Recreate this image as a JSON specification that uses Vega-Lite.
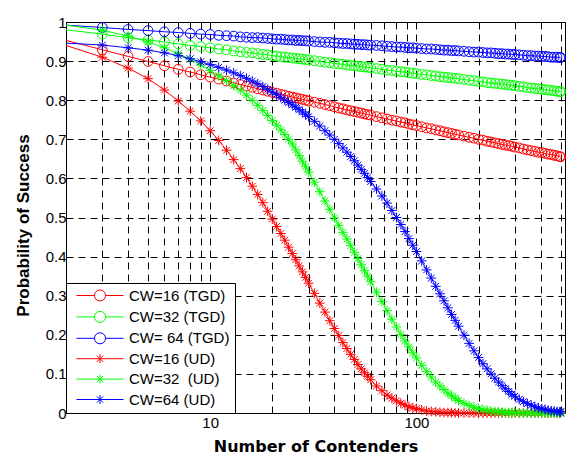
{
  "$schema": "https://vega.github.io/schema/vega-lite/v6.json",
  "width": 499,
  "height": 391,
  "autosize": {"type": "none"},
  "padding": {"left": 66, "top": 22, "right": 1, "bottom": 44},
  "background": "white",
  "config": {
    "font": "Liberation Sans",
    "view": {"stroke": "black", "strokeWidth": 1},
    "axis": {
      "gridColor": "black", "gridDash": [7, 5], "gridOpacity": 1, "gridWidth": 1,
      "domainColor": "black", "tickColor": "black", "labelColor": "black", "titleColor": "black",
      "labelFont": "Liberation Sans", "titleFont": "DejaVu Sans",
      "labelFontSize": 15, "titleFontSize": 16, "titleFontWeight": "bold"
    }
  },
  "datasets": {
    "d": [
      {"n":2,"a":0.953,"b":0.98,"c":0.992,"d":0.94,"e":0.992,"f":0.946},
      {"n":3,"a":0.929,"b":0.969,"c":0.986,"d":0.91,"e":0.979,"f":0.941},
      {"n":4,"a":0.912,"b":0.96,"c":0.981,"d":0.882,"e":0.964,"f":0.934},
      {"n":5,"a":0.899,"b":0.954,"c":0.978,"d":0.855,"e":0.949,"f":0.928},
      {"n":6,"a":0.888,"b":0.949,"c":0.975,"d":0.826,"e":0.934,"f":0.921},
      {"n":7,"a":0.879,"b":0.944,"c":0.973,"d":0.798,"e":0.919,"f":0.914},
      {"n":8,"a":0.872,"b":0.94,"c":0.971,"d":0.772,"e":0.905,"f":0.906},
      {"n":9,"a":0.865,"b":0.937,"c":0.969,"d":0.747,"e":0.89,"f":0.898},
      {"n":10,"a":0.859,"b":0.934,"c":0.968,"d":0.722,"e":0.876,"f":0.891},
      {"n":11,"a":0.854,"b":0.931,"c":0.966,"d":0.697,"e":0.862,"f":0.884},
      {"n":12,"a":0.849,"b":0.929,"c":0.965,"d":0.672,"e":0.85,"f":0.877},
      {"n":13,"a":0.844,"b":0.926,"c":0.964,"d":0.648,"e":0.837,"f":0.87},
      {"n":14,"a":0.84,"b":0.924,"c":0.962,"d":0.625,"e":0.826,"f":0.863},
      {"n":15,"a":0.836,"b":0.922,"c":0.961,"d":0.602,"e":0.813,"f":0.856},
      {"n":16,"a":0.833,"b":0.921,"c":0.96,"d":0.58,"e":0.8,"f":0.849},
      {"n":17,"a":0.829,"b":0.919,"c":0.96,"d":0.559,"e":0.787,"f":0.842},
      {"n":18,"a":0.826,"b":0.917,"c":0.959,"d":0.538,"e":0.774,"f":0.835},
      {"n":19,"a":0.823,"b":0.916,"c":0.958,"d":0.516,"e":0.761,"f":0.828},
      {"n":20,"a":0.82,"b":0.914,"c":0.957,"d":0.496,"e":0.748,"f":0.821},
      {"n":21,"a":0.818,"b":0.913,"c":0.956,"d":0.477,"e":0.736,"f":0.814},
      {"n":22,"a":0.815,"b":0.911,"c":0.956,"d":0.459,"e":0.724,"f":0.807},
      {"n":23,"a":0.813,"b":0.91,"c":0.955,"d":0.442,"e":0.712,"f":0.8},
      {"n":24,"a":0.81,"b":0.909,"c":0.954,"d":0.424,"e":0.7,"f":0.794},
      {"n":25,"a":0.808,"b":0.908,"c":0.954,"d":0.408,"e":0.688,"f":0.788},
      {"n":26,"a":0.806,"b":0.907,"c":0.953,"d":0.392,"e":0.673,"f":0.782},
      {"n":27,"a":0.804,"b":0.906,"c":0.953,"d":0.376,"e":0.658,"f":0.776},
      {"n":28,"a":0.802,"b":0.905,"c":0.952,"d":0.361,"e":0.644,"f":0.77},
      {"n":29,"a":0.8,"b":0.904,"c":0.952,"d":0.347,"e":0.63,"f":0.764},
      {"n":30,"a":0.798,"b":0.903,"c":0.951,"d":0.332,"e":0.616,"f":0.758},
      {"n":32,"a":0.795,"b":0.901,"c":0.95,"d":0.306,"e":0.59,"f":0.746},
      {"n":34,"a":0.792,"b":0.899,"c":0.949,"d":0.281,"e":0.566,"f":0.734},
      {"n":36,"a":0.789,"b":0.897,"c":0.948,"d":0.258,"e":0.542,"f":0.722},
      {"n":38,"a":0.786,"b":0.896,"c":0.948,"d":0.236,"e":0.521,"f":0.711},
      {"n":40,"a":0.783,"b":0.894,"c":0.947,"d":0.216,"e":0.499,"f":0.7},
      {"n":42,"a":0.78,"b":0.893,"c":0.946,"d":0.198,"e":0.48,"f":0.689},
      {"n":44,"a":0.778,"b":0.892,"c":0.945,"d":0.18,"e":0.462,"f":0.678},
      {"n":46,"a":0.775,"b":0.89,"c":0.945,"d":0.165,"e":0.445,"f":0.667},
      {"n":48,"a":0.773,"b":0.889,"c":0.944,"d":0.15,"e":0.428,"f":0.656},
      {"n":50,"a":0.771,"b":0.888,"c":0.943,"d":0.137,"e":0.411,"f":0.645},
      {"n":52,"a":0.769,"b":0.887,"c":0.943,"d":0.124,"e":0.395,"f":0.634},
      {"n":54,"a":0.767,"b":0.886,"c":0.942,"d":0.113,"e":0.379,"f":0.623},
      {"n":56,"a":0.765,"b":0.885,"c":0.942,"d":0.103,"e":0.364,"f":0.613},
      {"n":58,"a":0.763,"b":0.884,"c":0.941,"d":0.094,"e":0.35,"f":0.602},
      {"n":60,"a":0.762,"b":0.883,"c":0.941,"d":0.085,"e":0.336,"f":0.592},
      {"n":64,"a":0.758,"b":0.881,"c":0.94,"d":0.069,"e":0.309,"f":0.573},
      {"n":68,"a":0.755,"b":0.879,"c":0.939,"d":0.057,"e":0.285,"f":0.555},
      {"n":72,"a":0.752,"b":0.877,"c":0.938,"d":0.046,"e":0.262,"f":0.537},
      {"n":76,"a":0.749,"b":0.876,"c":0.937,"d":0.038,"e":0.24,"f":0.518},
      {"n":80,"a":0.747,"b":0.874,"c":0.936,"d":0.031,"e":0.22,"f":0.5},
      {"n":84,"a":0.744,"b":0.873,"c":0.936,"d":0.025,"e":0.201,"f":0.482},
      {"n":88,"a":0.742,"b":0.872,"c":0.935,"d":0.02,"e":0.184,"f":0.464},
      {"n":92,"a":0.739,"b":0.87,"c":0.934,"d":0.016,"e":0.169,"f":0.446},
      {"n":96,"a":0.737,"b":0.869,"c":0.934,"d":0.013,"e":0.154,"f":0.429},
      {"n":100,"a":0.735,"b":0.868,"c":0.933,"d":0.011,"e":0.141,"f":0.413},
      {"n":106,"a":0.732,"b":0.866,"c":0.932,"d":0.008,"e":0.122,"f":0.389},
      {"n":112,"a":0.729,"b":0.865,"c":0.931,"d":0.005,"e":0.106,"f":0.366},
      {"n":118,"a":0.727,"b":0.863,"c":0.931,"d":0.004,"e":0.092,"f":0.345},
      {"n":124,"a":0.724,"b":0.862,"c":0.93,"d":0.003,"e":0.079,"f":0.324},
      {"n":130,"a":0.722,"b":0.86,"c":0.929,"d":0.002,"e":0.069,"f":0.305},
      {"n":136,"a":0.719,"b":0.859,"c":0.928,"d":0.001,"e":0.06,"f":0.287},
      {"n":142,"a":0.717,"b":0.858,"c":0.928,"d":0.001,"e":0.051,"f":0.269},
      {"n":148,"a":0.715,"b":0.857,"c":0.927,"d":0.001,"e":0.044,"f":0.252},
      {"n":154,"a":0.713,"b":0.856,"c":0.927,"d":0,"e":0.038,"f":0.237},
      {"n":160,"a":0.711,"b":0.855,"c":0.926,"d":0,"e":0.032,"f":0.222},
      {"n":170,"a":0.708,"b":0.853,"c":0.925,"d":0,"e":0.025,"f":0.199},
      {"n":180,"a":0.705,"b":0.851,"c":0.924,"d":0,"e":0.019,"f":0.178},
      {"n":190,"a":0.703,"b":0.85,"c":0.923,"d":0,"e":0.015,"f":0.159},
      {"n":200,"a":0.7,"b":0.848,"c":0.923,"d":0,"e":0.011,"f":0.142},
      {"n":210,"a":0.698,"b":0.847,"c":0.922,"d":0,"e":0.009,"f":0.126},
      {"n":220,"a":0.695,"b":0.845,"c":0.921,"d":0,"e":0.007,"f":0.113},
      {"n":230,"a":0.693,"b":0.844,"c":0.921,"d":0,"e":0.005,"f":0.1},
      {"n":240,"a":0.691,"b":0.843,"c":0.92,"d":0,"e":0.004,"f":0.089},
      {"n":250,"a":0.689,"b":0.842,"c":0.919,"d":0,"e":0.003,"f":0.079},
      {"n":260,"a":0.687,"b":0.841,"c":0.919,"d":0,"e":0.002,"f":0.07},
      {"n":270,"a":0.685,"b":0.84,"c":0.918,"d":0,"e":0.002,"f":0.062},
      {"n":280,"a":0.684,"b":0.839,"c":0.918,"d":0,"e":0.001,"f":0.055},
      {"n":290,"a":0.682,"b":0.838,"c":0.917,"d":0,"e":0.001,"f":0.048},
      {"n":300,"a":0.68,"b":0.837,"c":0.917,"d":0,"e":0.001,"f":0.043},
      {"n":315,"a":0.678,"b":0.835,"c":0.916,"d":0,"e":0,"f":0.035},
      {"n":330,"a":0.675,"b":0.834,"c":0.915,"d":0,"e":0,"f":0.029},
      {"n":345,"a":0.673,"b":0.832,"c":0.914,"d":0,"e":0,"f":0.024},
      {"n":360,"a":0.671,"b":0.831,"c":0.914,"d":0,"e":0,"f":0.02},
      {"n":375,"a":0.669,"b":0.83,"c":0.913,"d":0,"e":0,"f":0.016},
      {"n":390,"a":0.667,"b":0.829,"c":0.913,"d":0,"e":0,"f":0.013},
      {"n":405,"a":0.666,"b":0.828,"c":0.912,"d":0,"e":0,"f":0.011},
      {"n":420,"a":0.664,"b":0.827,"c":0.912,"d":0,"e":0,"f":0.009},
      {"n":435,"a":0.662,"b":0.826,"c":0.911,"d":0,"e":0,"f":0.007},
      {"n":450,"a":0.661,"b":0.825,"c":0.91,"d":0,"e":0,"f":0.006},
      {"n":465,"a":0.659,"b":0.824,"c":0.91,"d":0,"e":0,"f":0.005},
      {"n":480,"a":0.658,"b":0.823,"c":0.91,"d":0,"e":0,"f":0.004},
      {"n":495,"a":0.656,"b":0.822,"c":0.909,"d":0,"e":0,"f":0.003},
      {"n":500,"a":0.655,"b":0.822,"c":0.909,"d":0,"e":0,"f":0.003}
    ]
  },
  "data": {"name": "d"},
  "transform": [{"fold": ["a", "b", "c", "d", "e", "f"], "as": ["key", "p"]}],
  "layer": [
    {
      "mark": {"type": "line", "strokeWidth": 1, "clip": false},
      "encoding": {
        "x": {"field": "n", "type": "quantitative",
          "scale": {"type": "log", "domain": [2, 525], "nice": false},
          "axis": {"orient": "bottom", "values": [2,3,4,5,6,7,8,9,10,20,30,40,50,60,70,80,90,100,200,300,400,500],
            "labelExpr": "datum.value == 10 ? '10' : datum.value == 100 ? '100' : ''",
            "labelOverlap": false, "grid": true, "tickSize": -5, "labelPadding": 7,
            "title": "Number of Contenders", "titlePadding": 8}},
        "y": {"field": "p", "type": "quantitative",
          "scale": {"domain": [0, 1], "nice": false, "zero": false},
          "axis": {"orient": "left", "values": [0,0.1,0.2,0.3,0.4,0.5,0.6,0.7,0.8,0.9,1],
            "format": ".1~f", "grid": true, "tickSize": -5, "labelPadding": 5,
            "title": "Probability of Success", "titlePadding": 13,
            "titleFont": "Liberation Sans", "titleFontSize": 17, "titleY": 203}},
        "color": {"field": "key", "type": "nominal",
          "scale": {"domain": ["a","b","c","d","e","f"], "range": ["#ff0000","#00ff00","#0000ff","#ff0000","#00ff00","#0000ff"]},
          "legend": null}
      }
    },
    {
      "transform": [{"filter": "datum.n >= 3"}],
      "mark": {"type": "point", "filled": false, "strokeWidth": 1, "opacity": 1, "clip": false},
      "encoding": {
        "x": {"field": "n", "type": "quantitative", "axis": null},
        "y": {"field": "p", "type": "quantitative", "axis": null},
        "color": {"field": "key", "type": "nominal",
          "scale": {"domain": ["a","b","c","d","e","f"], "range": ["#ff0000","#00ff00","#0000ff","#ff0000","#00ff00","#0000ff"]},
          "legend": null},
        "shape": {"field": "key", "type": "nominal",
          "scale": {"domain": ["a","b","c","d","e","f"], "range": ["circle","circle","circle",
            "M-1,0L1,0M0,-1L0,1M-0.7,-0.7L0.7,0.7M-0.7,0.7L0.7,-0.7",
            "M-1,0L1,0M0,-1L0,1M-0.7,-0.7L0.7,0.7M-0.7,0.7L0.7,-0.7",
            "M-1,0L1,0M0,-1L0,1M-0.7,-0.7L0.7,0.7M-0.7,0.7L0.7,-0.7"]},
          "legend": null},
        "size": {"field": "key", "type": "nominal",
          "scale": {"domain": ["a","b","c","d","e","f"], "range": [95,95,95,100,100,100]},
          "legend": null},
        "order": {"field": "key"}
      }
    },
    {
      "transform": [{"filter": "datum.n < 0"}],
      "mark": {"type": "point", "filled": false, "strokeWidth": 1, "opacity": 1, "size": 196},
      "encoding": {
        "x": {"field": "n", "type": "quantitative",
          "axis": {"orient": "top", "values": [2,3,4,5,6,7,8,9,10,20,30,40,50,60,70,80,90,100,200,300,400,500],
            "labels": false, "grid": false, "tickSize": -5, "domain": false, "title": null}},
        "y": {"field": "p", "type": "quantitative",
          "axis": {"orient": "right", "values": [0,0.1,0.2,0.3,0.4,0.5,0.6,0.7,0.8,0.9,1],
            "labels": false, "grid": false, "tickSize": -5, "domain": false, "title": null}},
        "color": {"field": "key", "type": "nominal",
          "scale": {"domain": ["a","b","c","d","e","f"], "range": ["#ff0000","#00ff00","#0000ff","#ff0000","#00ff00","#0000ff"]},
          "legend": {"orient": "bottom-left", "offset": 0, "title": null, "padding": 5, "symbolOffset": 21.5,
            "strokeColor": "black", "fillColor": "white", "labelFont": "Liberation Sans", "labelFontSize": 15,
            "labelColor": "black", "labelLimit": 0, "labelOffset": 21.5, "symbolSize": 196, "symbolStrokeWidth": 1,
            "rowPadding": 4.4,
            "labelExpr": "datum.label == 'a' ? 'CW=16 (TGD)' : datum.label == 'b' ? 'CW=32 (TGD)' : datum.label == 'c' ? 'CW=\u00a064 (TGD)' : datum.label == 'd' ? 'CW=16 (UD)' : datum.label == 'e' ? 'CW=32\u00a0 (UD)' : 'CW=64 (UD)'"}},
        "shape": {"field": "key", "type": "nominal",
          "scale": {"domain": ["a","b","c","d","e","f"], "range": [
            "M-3.36,0L-0.79,0M0.79,0L3.36,0M0.79,0A0.79,0.79,0,1,1,-0.79,0A0.79,0.79,0,1,1,0.79,0",
            "M-3.36,0L-0.79,0M0.79,0L3.36,0M0.79,0A0.79,0.79,0,1,1,-0.79,0A0.79,0.79,0,1,1,0.79,0",
            "M-3.36,0L-0.79,0M0.79,0L3.36,0M0.79,0A0.79,0.79,0,1,1,-0.79,0A0.79,0.79,0,1,1,0.79,0",
            "M-3.36,0L3.36,0M0,-0.64L0,0.64M-0.45,-0.45L0.45,0.45M-0.45,0.45L0.45,-0.45",
            "M-3.36,0L3.36,0M0,-0.64L0,0.64M-0.45,-0.45L0.45,0.45M-0.45,0.45L0.45,-0.45",
            "M-3.36,0L3.36,0M0,-0.64L0,0.64M-0.45,-0.45L0.45,0.45M-0.45,0.45L0.45,-0.45"]},
          "legend": {"orient": "bottom-left", "offset": 0, "title": null, "padding": 5, "symbolOffset": 21.5,
            "strokeColor": "black", "fillColor": "white", "labelFont": "Liberation Sans", "labelFontSize": 15,
            "labelColor": "black", "labelLimit": 0, "labelOffset": 21.5, "symbolSize": 196, "symbolStrokeWidth": 1,
            "rowPadding": 4.4,
            "labelExpr": "datum.label == 'a' ? 'CW=16 (TGD)' : datum.label == 'b' ? 'CW=32 (TGD)' : datum.label == 'c' ? 'CW=\u00a064 (TGD)' : datum.label == 'd' ? 'CW=16 (UD)' : datum.label == 'e' ? 'CW=32\u00a0 (UD)' : 'CW=64 (UD)'"}}
      }
    }
  ],
  "resolve": {
    "scale": {"color": "independent", "shape": "independent", "size": "independent"},
    "axis": {"x": "independent", "y": "independent"}
  }
}
